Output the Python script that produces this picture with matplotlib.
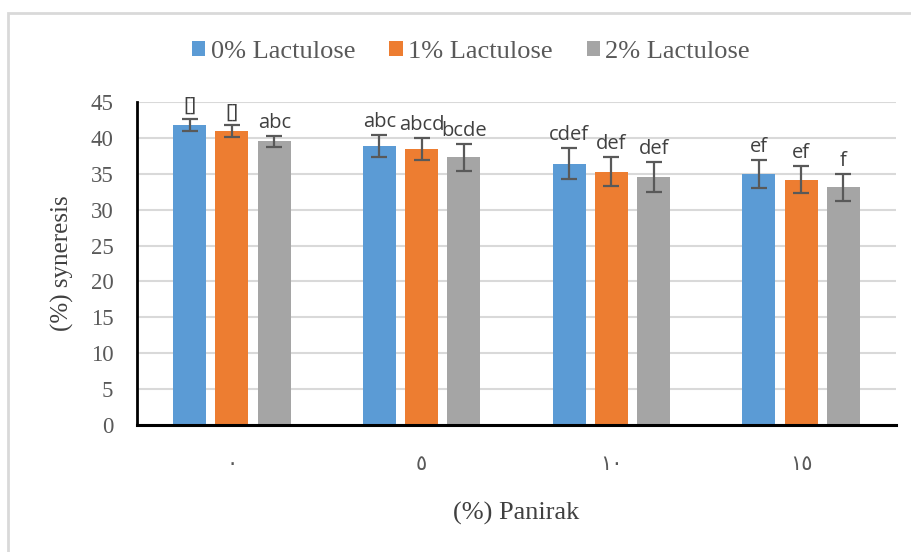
import matplotlib
matplotlib.use("Agg")
import matplotlib.pyplot as plt
import numpy as np
from matplotlib.patches import Rectangle

categories = ["٠", "٥", "١٠", "١٥"]
series_names = ["0% Lactulose", "1% Lactulose", "2% Lactulose"]
lact0 = [41.8, 38.9, 36.4, 34.95]
lact1 = [40.9, 38.4, 35.3, 34.2]
lact2 = [39.5, 37.3, 34.6, 33.1]
err0 = [0.85, 1.57, 2.16, 1.95]
err1 = [0.83, 1.52, 2.07, 1.9]
err2 = [0.76, 1.9, 2.1, 1.93]
labels0 = ["[]", "abc", "cdef", "ef"]
labels1 = ["[]", "abcd", "def", "ef"]
labels2 = ["abc", "bcde", "def", "f"]
colors = ["#5B9BD5", "#ED7D31", "#A5A5A5"]

serif = ["Liberation Serif", "DejaVu Serif"]
arab = ["DejaVu Sans"]
sans = ["Open Sans", "DejaVu Sans"]

fig = plt.figure(figsize=(9.12, 5.52), dpi=100)
fig.patches.append(Rectangle((8/912, -0.2), 2, 1.2 - 13/552, transform=fig.transFigure,
                             fill=False, edgecolor="#D9D9D9", linewidth=2))
ax = fig.add_axes([137/912, 127/552, 759/912, 323/552])

x = np.arange(len(categories))
w = 0.174
step = 0.223
vals = [lact0, lact1, lact2]
errs = [err0, err1, err2]
labs = [labels0, labels1, labels2]
for i in range(3):
    xs = x + (i - 1) * step
    ax.bar(xs, vals[i], width=w, color=colors[i], label=series_names[i], zorder=2)
    ax.errorbar(xs, vals[i], yerr=errs[i], fmt="none", ecolor="#595959",
                elinewidth=1.6, capsize=5.5, capthick=1.6, zorder=3)
    for xi, v, e, t in zip(xs, vals[i], errs[i], labs[i]):
        ax.annotate(t, (xi, v + e), xytext=(0, 3), textcoords="offset pixels",
                    ha="center", va="bottom", fontsize=14.5, color="#404040",
                    family=sans)

ax.set_xlim(-0.5, 3.5)
ax.set_ylim(0, 45)
ax.set_yticks(range(0, 46, 5))
ax.yaxis.grid(True, color="#D9D9D9", linewidth=1.5, zorder=0)
ax.set_axisbelow(True)
for s in ["top", "right"]:
    ax.spines[s].set_visible(False)
ax.spines["left"].set_linewidth(2)
ax.spines["bottom"].set_linewidth(2.2)
ax.tick_params(axis="both", length=0)
ax.tick_params(axis="y", pad=17)
ax.tick_params(axis="x", pad=21)
ax.set_xticks(x)
ax.set_xticklabels(categories, family=arab, fontsize=15, color="#595959")
for t in ax.get_yticklabels():
    t.set_family(serif)
    t.set_fontsize(16.5)
    t.set_color("#595959")
ax.set_xlabel("(%) Panirak", family=serif, fontsize=19, color="#404040", labelpad=20)
ax.set_ylabel("(%) syneresis", family=serif, fontsize=18, color="#404040", labelpad=12)

fig.legend(loc="center", bbox_to_anchor=(471/912, 1 - 52/552), ncol=3, frameon=False,
           prop={"family": serif, "size": 19}, handlelength=0.5, handleheight=0.5,
           handletextpad=0.2, columnspacing=1.3, labelcolor="#595959")

fig.savefig("out.png", dpi=100)
